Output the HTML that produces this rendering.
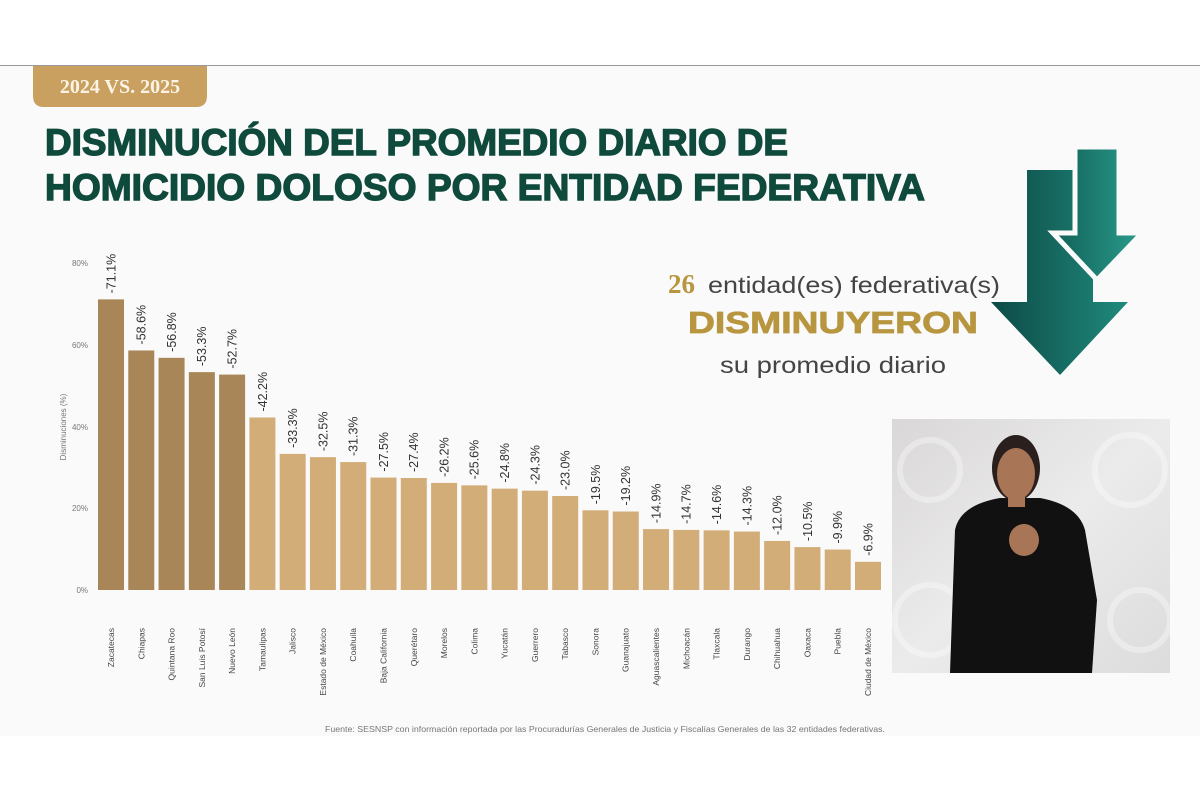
<!DOCTYPE html>
<html><head><meta charset="utf-8"><style>
html,body{margin:0;padding:0;background:#fff;}
svg{display:block;}
</style></head><body>
<svg width="1200" height="800" viewBox="0 0 1200 800" xmlns="http://www.w3.org/2000/svg" font-family="Liberation Sans, sans-serif">
<defs>
<linearGradient id="ag" x1="0" y1="0" x2="1" y2="0"><stop offset="0" stop-color="#0d4a46"/><stop offset="1" stop-color="#1f8a7c"/></linearGradient>
<linearGradient id="ag2" x1="0" y1="0" x2="1" y2="0"><stop offset="0" stop-color="#116057"/><stop offset="1" stop-color="#2a9c8c"/></linearGradient>
<linearGradient id="pg" x1="0" y1="0" x2="1" y2="1"><stop offset="0" stop-color="#d9d7d8"/><stop offset="0.5" stop-color="#ecebec"/><stop offset="1" stop-color="#dddcdd"/></linearGradient>
</defs>
<rect x="0" y="0" width="1200" height="800" fill="#fff"/>
<rect x="0" y="66" width="1200" height="670" fill="#fafafa"/>
<line x1="0" y1="65.5" x2="1200" y2="65.5" stroke="#9a9a9a" stroke-width="1"/>
<path d="M33,66 H207 V96 Q207,107 196,107 H44 Q33,107 33,96 Z" fill="#c9a060"/>
<text x="120" y="93" text-anchor="middle" font-family="Liberation Serif, serif" font-size="20" fill="#fbf4e6" font-weight="bold">2024 VS. 2025</text>
<g stroke="#0f4a3c" stroke-width="1.4">
<text x="45" y="155" font-size="37" font-weight="bold" fill="#0f4a3c" textLength="743" lengthAdjust="spacingAndGlyphs">DISMINUCIÓN DEL PROMEDIO DIARIO DE</text>
<text x="45" y="200" font-size="37" font-weight="bold" fill="#0f4a3c" textLength="880" lengthAdjust="spacingAndGlyphs">HOMICIDIO DOLOSO POR ENTIDAD FEDERATIVA</text>
</g>
<!-- arrows -->
<path d="M1027,170 H1093 V302 H1128 L1060,375 L991,302 H1027 Z" fill="url(#ag)"/>
<path d="M1075,147 H1119 V233 H1142 L1097,280 L1053,233 H1075 Z" fill="url(#ag2)" stroke="#fafafa" stroke-width="5" stroke-linejoin="miter"/>
<!-- text block -->
<text x="668" y="293" font-family="Liberation Serif, serif" font-size="27" font-weight="bold" fill="#b89640">26</text>
<text x="708" y="293" font-size="23" fill="#444" textLength="292" lengthAdjust="spacingAndGlyphs">entidad(es) federativa(s)</text>
<text x="833" y="333" text-anchor="middle" font-size="31" font-weight="bold" fill="#b89640" stroke="#b89640" stroke-width="0.8" textLength="290" lengthAdjust="spacingAndGlyphs">DISMINUYERON</text>
<text x="833" y="373" text-anchor="middle" font-size="23" fill="#444" textLength="226" lengthAdjust="spacingAndGlyphs">su promedio diario</text>
<!-- axis -->
<g font-size="8" fill="#777" text-anchor="end">
<text x="88" y="266">80%</text><text x="88" y="348">60%</text><text x="88" y="430">40%</text><text x="88" y="511">20%</text><text x="88" y="593">0%</text>
</g>
<text transform="translate(66,427) rotate(-90)" text-anchor="middle" font-size="8" fill="#777">Disminuciones (%)</text>
<g id="bars"></g>
<!-- photo -->
<rect x="892" y="419" width="278" height="254" fill="url(#pg)"/>
<g opacity="0.35" fill="none" stroke="#fff" stroke-width="6">
<circle cx="930" cy="470" r="30"/><circle cx="1130" cy="470" r="35"/><circle cx="930" cy="620" r="35"/><circle cx="1140" cy="620" r="30"/>
</g>
<path d="M950,673 L955,530 Q960,505 1000,498 L1040,498 Q1078,505 1085,530 L1097,600 L1092,673 Z" fill="#111"/>
<ellipse cx="1016" cy="468" rx="24" ry="33" fill="#2a1f1c"/>
<ellipse cx="1016" cy="474" rx="19" ry="26" fill="#a87657"/>
<rect x="1008" y="495" width="17" height="12" fill="#a87657"/>
<ellipse cx="1024" cy="540" rx="15" ry="16" fill="#a87657"/>
<text x="605" y="732" text-anchor="middle" font-size="8.5" fill="#777" textLength="560" lengthAdjust="spacingAndGlyphs">Fuente: SESNSP con información reportada por las Procuradurías Generales de Justicia y Fiscalías Generales de las 32 entidades federativas.</text>
</svg>
<script>
var v=[71.1,58.6,56.8,53.3,52.7,42.2,33.3,32.5,31.3,27.5,27.4,26.2,25.6,24.8,24.3,23.0,19.5,19.2,14.9,14.7,14.6,14.3,12.0,10.5,9.9,6.9];
var n=["Zacatecas","Chiapas","Quintana Roo","San Luis Potosí","Nuevo León","Tamaulipas","Jalisco","Estado de México","Coahuila","Baja California","Querétaro","Morelos","Colima","Yucatán","Guerrero","Tabasco","Sonora","Guanajuato","Aguascalientes","Michoacán","Tlaxcala","Durango","Chihuahua","Oaxaca","Puebla","Ciudad de México"];
var g=document.getElementById('bars'),s='';
for(var i=0;i<26;i++){var cx=111+i*30.28,h=v[i]*4.0875,t=590-h;
s+='<rect x="'+(cx-13)+'" y="'+t+'" width="26" height="'+h+'" fill="'+(i<5?'#a88657':'#d3ad78')+'"/>';
s+='<text transform="translate('+cx+','+(t-6)+') rotate(-90)" dy="0.35em" font-size="12.5" fill="#333">-'+v[i].toFixed(1)+'%</text>';
s+='<text transform="translate('+cx+',628) rotate(-90)" dy="0.35em" text-anchor="end" font-size="8.5" fill="#444">'+n[i]+'</text>';}
g.innerHTML=s;
</script>
</body></html>
